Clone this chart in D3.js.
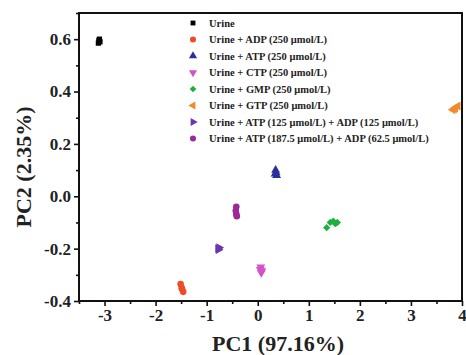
<!DOCTYPE html>
<html>
<head>
<meta charset="utf-8">
<script src="https://cdn.jsdelivr.net/npm/d3@7"></script>
<style>
 body { margin: 0; background: #fff; }
 text { font-family: "Liberation Serif", "Times New Roman", serif; font-weight: bold; }
</style>
</head>
<body>
<script>

// series names, in legend order
var names = [
 'Urine',
 'Urine + ADP (250 \u03bcmol/L)',
 'Urine + ATP (250 \u03bcmol/L)',
 'Urine + CTP (250 \u03bcmol/L)',
 'Urine + GMP (250 \u03bcmol/L)',
 'Urine + GTP (250 \u03bcmol/L)',
 'Urine + ATP (125 \u03bcmol/L) + ADP (125 \u03bcmol/L)',
 'Urine + ATP (187.5 \u03bcmol/L) + ADP (62.5 \u03bcmol/L)'
]

// [PC1, PC2] per sample
var urine    = [[-3.12, 0.585], [-3.10, 0.600], [-3.11, 0.595], [-3.09, 0.590]]
var adp      = [[-1.51, -0.335], [-1.49, -0.350], [-1.46, -0.365], [-1.48, -0.355]]
var atp      = [[0.35, 0.100], [0.36, 0.090], [0.37, 0.080], [0.34, 0.085]]
var ctp      = [[0.06, -0.270], [0.08, -0.285], [0.07, -0.292], [0.05, -0.280]]
var gmp      = [[1.35, -0.120], [1.42, -0.100], [1.48, -0.095], [1.56, -0.100], [1.52, -0.105]]
var gtp      = [[3.82, 0.330], [3.87, 0.338], [3.92, 0.345], [3.85, 0.334]]
var atpadp1  = [[-0.78, -0.200], [-0.76, -0.196], [-0.77, -0.204]]
var atpadp2  = [[-0.42, -0.040], [-0.43, -0.055], [-0.42, -0.068], [-0.41, -0.076]]

var xTicks = [-3, -2, -1, 0, 1, 2, 3, 4]
var yTicks = [-0.4, -0.2, 0.0, 0.2, 0.4, 0.6]
var xTitle = 'PC1 (97.16%)'
var yTitle = 'PC2 (2.35%)'

var series = [urine, adp, atp, ctp, gmp, gtp, atpadp1, atpadp2]
var colors = ['#000000', '#ee4c26', '#2b2f9e', '#d452c6', '#1fae40', '#f28a2c', '#6a35ad', '#9b2a98']
var shapes = [
 {type: d3.symbolSquare,   rot: 0,   size: 28},
 {type: d3.symbolCircle,   rot: 0,   size: 34},
 {type: d3.symbolTriangle, rot: 0,   size: 34},
 {type: d3.symbolTriangle, rot: 180, size: 34},
 {type: d3.symbolSquare,   rot: 45,  size: 26},
 {type: d3.symbolTriangle, rot: -90, size: 34},
 {type: d3.symbolTriangle, rot: 90,  size: 34},
 {type: d3.symbolCircle,   rot: 0,   size: 34}
]

var W = 466, H = 355
var m = {left: 79, right: 4, top: 13, bottom: 54}

var svg = d3.select('body').append('svg')
  .attr('width', W).attr('height', H)

var x = d3.scaleLinear().domain([-3.5, 4]).range([m.left, W - m.right])
var y = d3.scaleLinear().domain([-0.4, 0.7]).range([H - m.bottom, m.top])

// frame
svg.append('rect')
  .attr('x', x.range()[0]).attr('y', y.range()[1])
  .attr('width', x.range()[1] - x.range()[0])
  .attr('height', y.range()[0] - y.range()[1])
  .attr('fill', 'none').attr('stroke', '#111').attr('stroke-width', 2)

// minor ticks
var xMinor = d3.range(-3.5, 4, 0.5).filter(function(v) { return xTicks.indexOf(v) < 0 })
var yMinor = [-0.3, -0.1, 0.1, 0.3, 0.5, 0.7]

var hy = function(f) { return function(v) { return f(v).replace('\u2212', '-') } }

var xAxis = svg.append('g').attr('transform', 'translate(0,' + y.range()[0] + ')')
  .call(d3.axisBottom(x).tickValues(xTicks).tickSize(5).tickPadding(3).tickFormat(hy(d3.format('d'))))
var xAxisMinor = svg.append('g').attr('transform', 'translate(0,' + y.range()[0] + ')')
  .call(d3.axisBottom(x).tickValues(xMinor).tickSize(3).tickFormat(''))
var yAxis = svg.append('g').attr('transform', 'translate(' + x.range()[0] + ',0)')
  .call(d3.axisLeft(y).tickValues(yTicks).tickSize(5).tickPadding(3).tickFormat(hy(d3.format('.1f'))))
var yAxisMinor = svg.append('g').attr('transform', 'translate(' + x.range()[0] + ',0)')
  .call(d3.axisLeft(y).tickValues(yMinor).tickSize(3).tickFormat(''))

;[xAxis, xAxisMinor, yAxis, yAxisMinor].forEach(function(a) {
  a.select('.domain').remove()
  a.selectAll('line').attr('stroke', '#111').attr('stroke-width', 1.6)
  a.selectAll('text').attr('fill', '#222').style('font-size', '17px')
    .style('font-family', '"Liberation Serif", serif').style('font-weight', 'bold')
})
xAxis.selectAll('text').attr('dy', '0.72em')

// axis titles
svg.append('text').attr('x', 278).attr('y', 351)
  .attr('text-anchor', 'middle').style('font-size', '22px').attr('fill', '#222')
  .text(xTitle)
svg.append('text').attr('transform', 'translate(31,167) rotate(-90)')
  .attr('text-anchor', 'middle').style('font-size', '22px').attr('fill', '#222')
  .text(yTitle)

// points
var plot = svg.append('g')
for (var i=0;i<series.length;i++) {
  var sh = shapes[i]
  var sym = d3.symbol().type(sh.type).size(sh.size)
  plot.selectAll('.s' + i).data(series[i]).enter().append('path')
    .attr('class', 's' + i)
    .attr('d', sym)
    .attr('fill', colors[i])
    .attr('transform', function(d) { return 'translate(' + x(d[0]) + ',' + y(d[1]) + ') rotate(' + sh.rot + ')' })
}

// legend
var lg = svg.append('g').attr('transform', 'translate(193,23)')
var rows = lg.selectAll('g').data(names).enter().append('g')
  .attr('transform', function(d, i) { return 'translate(0,' + (i * 16.5) + ')' })
rows.append('path')
  .attr('d', function(d, i) { return d3.symbol().type(shapes[i].type).size(shapes[i].size * 0.85)() })
  .attr('transform', function(d, i) { return 'rotate(' + shapes[i].rot + ')' })
  .attr('fill', function(d, i) { return colors[i] })
rows.append('text').attr('x', 16).attr('dy', '0.35em')
  .style('font-size', '10.5px').attr('fill', '#222')
  .text(function(d) { return d })

</script>
</body>
</html>
